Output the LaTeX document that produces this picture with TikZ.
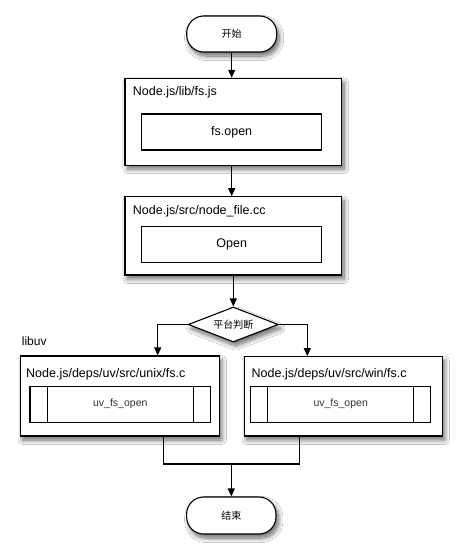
\documentclass[tikz,border=0pt]{standalone}
\usepackage{fontspec}
\setmainfont{Liberation Sans}
\newfontfamily\cjk{Noto Sans CJK SC}
\usetikzlibrary{shapes.geometric,shadows.blur,arrows.meta}
\begin{document}
\begin{tikzpicture}[x=1pt,y=-1pt,
 shad/.style={blur shadow={shadow xshift=2.5pt,shadow yshift=-4pt,shadow blur steps=12,shadow blur radius=4.5pt,shadow opacity=60}},
 ln/.style={line width=1.1pt},
 term/.style={draw,ln,fill=white,rounded corners=17pt,minimum width=90pt,minimum height=36pt,inner sep=0pt,shad,font=\cjk\fontsize{10}{12}\selectfont},
 outer/.style={draw,ln,fill=white,inner sep=0pt,shad},
 inner/.style={draw,ln,minimum width=180pt,minimum height=36pt,inner sep=0pt},
 lbl/.style={anchor=west,inner sep=0pt,font=\fontsize{12.5}{15}\selectfont},
 txt/.style={font=\fontsize{12.5}{15}\selectfont},
 uvtxt/.style={font=\fontsize{10.5}{12}\selectfont,text=black!80},
 arr/.style={ln,-{Triangle[length=8pt,width=7pt]}},
 dec/.style={diamond,draw,ln,fill=white,minimum width=90pt,minimum height=35pt,inner sep=0pt,aspect=2.5,shad,font=\cjk\fontsize{10}{12}\selectfont}
]
\useasboundingbox (0,0) rectangle (462,558);
\fill[white] (0,0) rectangle (462,558);

% start
\node[term] (start) at (231.7,34) {开始};

% box 1
\node[outer,minimum width=216.7pt,minimum height=86.7pt] (b1) at (233.3,121.7) {};
\node[lbl] (b1l) at (132.7,92.5) {Node.js/lib/fs.js};
\node[inner,txt] (b1i) at (231.7,132) {fs.open};

% box 2
\node[outer,minimum width=216.7pt,minimum height=78.3pt] (b2) at (233.3,235.8) {};
\node[lbl] (b2l) at (132.7,211) {Node.js/src/node\_file.cc};
\node[inner,txt,minimum height=35.6pt] (b2i) at (231.7,244.5) {Open};

% decision
\node[dec] (d) at (233.3,324.5) {平台判断};

% libuv label
\node[lbl,font=\fontsize{12}{14}\selectfont] (lib) at (21.7,341.5) {libuv};

% left box
\node[outer,minimum width=199.3pt,minimum height=80pt] (bl) at (119.7,396) {};
\node[lbl] (bll) at (26,374) {Node.js/deps/uv/src/unix/fs.c};
\node[inner,uvtxt,minimum width=180.7pt,minimum height=36.3pt] (bli) at (120.3,404.2) {uv\_fs\_open};
\draw[ln] ([xshift=18.3pt]bli.north west) -- ([xshift=18.3pt]bli.south west);
\draw[ln] ([xshift=-18pt]bli.north east) -- ([xshift=-18pt]bli.south east);

% right box
\node[outer,minimum width=198.3pt,minimum height=79.3pt] (br) at (343.2,396.3) {};
\node[lbl] (brl) at (251.5,374) {Node.js/deps/uv/src/win/fs.c};
\node[inner,uvtxt,minimum width=180pt,minimum height=36.3pt] (bri) at (340.7,404.2) {uv\_fs\_open};
\draw[ln] ([xshift=17.6pt]bri.north west) -- ([xshift=17.6pt]bri.south west);
\draw[ln] ([xshift=-18pt]bri.north east) -- ([xshift=-18pt]bri.south east);

% end
\node[term,minimum width=89.3pt,minimum height=37pt] (end) at (231.3,515.5) {结束};

% connectors
\draw[arr] (start.south) -- (start.south |- b1.north);
\draw[arr] (b1.south -| start.south) -- (start.south |- b2.north);
\draw[arr] (b2.south) -- (d.north);
\draw[arr] (d.west) -| (157.7,0 |- bl.north);
\draw[arr] (d.east) -| (307.3,0 |- br.north);
\coordinate (m) at (231.3,464);
\draw[ln] (163.3,0 |- bl.south) |- (m);
\draw[ln] (299.3,0 |- br.south) |- (m);
\draw[arr] (m) -- (end.north);
\end{tikzpicture}
\end{document}
